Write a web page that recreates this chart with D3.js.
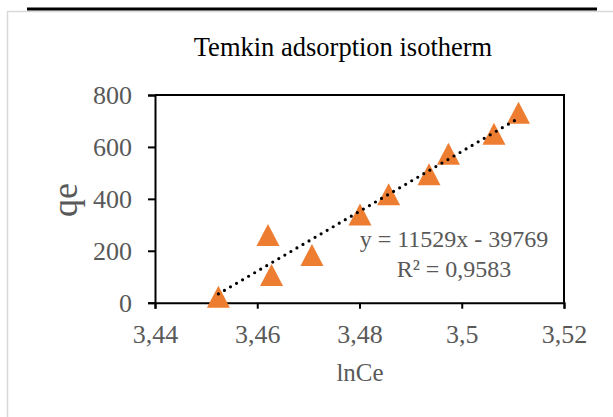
<!DOCTYPE html>
<html>
<head>
<meta charset="utf-8">
<script src="https://cdn.jsdelivr.net/npm/d3@7"></script>
<style>
  body { margin: 0; background: #fff; }
</style>
</head>
<body>
<div id="chart"></div>
<script>
let lnCe = [3.4524, 3.4621, 3.4628, 3.4707, 3.4801, 3.4857, 3.4936, 3.4974, 3.5063, 3.5111];
let qe = [23, 261, 107, 184, 340, 418, 495, 574, 651, 732];
let xTicks = [3.44, 3.46, 3.48, 3.5, 3.52];
let yTicks = [0, 200, 400, 600, 800];
let slope = 11529, intercept = -39769;
let eqLines = ['y = 11529x - 39769', 'R² = 0,9583'];

let font = '"Liberation Serif", "Times New Roman", serif';
let width = 613, height = 417;
let m = {left: 155, right: 564, top: 95, bottom: 302.7};

let svg = d3.select('#chart').append('svg')
  .attr('width', width)
  .attr('height', height)
  .attr('font-family', font);

// chart area border + black rule at the top
svg.append('rect')
  .attr('x', 7.5).attr('y', 11.5)
  .attr('width', 700).attr('height', 500)
  .attr('fill', '#fff').attr('stroke', '#d9d9d9').attr('stroke-width', 1.5);
svg.append('line')
  .attr('x1', 27).attr('x2', 597).attr('y1', 9).attr('y2', 9)
  .attr('stroke', '#000').attr('stroke-width', 3);

let x = d3.scaleLinear().domain([3.44, 3.52]).range([m.left, m.right]);
let y = d3.scaleLinear().domain([0, 800]).range([m.bottom, m.top]);

// plot frame
svg.append('path')
  .attr('d', `M${m.left},${m.top}H${m.right}V${m.bottom}`)
  .attr('fill', 'none').attr('stroke', '#000').attr('stroke-width', 2);

let xAxis = d3.axisBottom(x).tickValues(xTicks).tickSize(6).tickPadding(16)
  .tickFormat(d => String(d).replace('.', ','));
let yAxis = d3.axisLeft(y).tickValues(yTicks).tickSize(7).tickPadding(16);

svg.append('g')
  .attr('transform', `translate(0, ${m.bottom})`)
  .call(xAxis)
  .call(g => g.select('.domain').attr('stroke-width', 2))
  .call(g => g.selectAll('line').attr('stroke-width', 2))
  .call(g => g.selectAll('text').attr('font-size', 26).attr('fill', '#595959')
    .attr('font-family', font));

svg.append('g')
  .attr('transform', `translate(${m.left}, 0)`)
  .call(yAxis)
  .call(g => g.select('.domain').attr('stroke-width', 2))
  .call(g => g.selectAll('line').attr('stroke-width', 2))
  .call(g => g.selectAll('text').attr('font-size', 26).attr('fill', '#595959')
    .attr('font-family', font));

// triangle markers
let tri = {
  draw(ctx) {
    ctx.moveTo(0, -11);
    ctx.lineTo(11.5, 11);
    ctx.lineTo(-11.5, 11);
    ctx.closePath();
  }
};
svg.selectAll('.pt')
  .data(lnCe)
  .enter().append('path')
  .attr('class', 'pt')
  .attr('d', d3.symbol().type(tri))
  .attr('transform', (d, i) => `translate(${x(d)}, ${y(qe[i])})`)
  .attr('fill', '#ed7d31');

// trendline over the markers
let x0 = d3.min(lnCe), x1 = d3.max(lnCe);
svg.append('line')
  .attr('x1', x(x0)).attr('y1', y(slope * x0 + intercept))
  .attr('x2', x(x1)).attr('y2', y(slope * x1 + intercept))
  .attr('stroke', '#000').attr('stroke-width', 3.2)
  .attr('stroke-linecap', 'round').attr('stroke-dasharray', '0 7');

// equation
svg.selectAll('.eq')
  .data(eqLines)
  .enter().append('text')
  .attr('class', 'eq')
  .attr('x', 454).attr('y', (d, i) => 247 + i * 30)
  .attr('text-anchor', 'middle')
  .attr('font-family', font)
  .attr('font-size', 24).attr('fill', '#595959')
  .text(d => d);

// titles
svg.append('text')
  .attr('x', 343).attr('y', 56)
  .attr('text-anchor', 'middle')
  .attr('font-family', font)
  .attr('font-size', 26.5).attr('fill', '#000')
  .text('Temkin adsorption isotherm');

svg.append('text')
  .attr('x', 360).attr('y', 381)
  .attr('text-anchor', 'middle')
  .attr('font-family', font)
  .attr('font-size', 25).attr('fill', '#595959')
  .text('lnCe');

svg.append('text')
  .attr('transform', 'translate(77, 200) rotate(-90)')
  .attr('text-anchor', 'middle')
  .attr('font-family', font)
  .attr('font-size', 36).attr('fill', '#595959')
  .text('qe');
</script>
</body>
</html>
